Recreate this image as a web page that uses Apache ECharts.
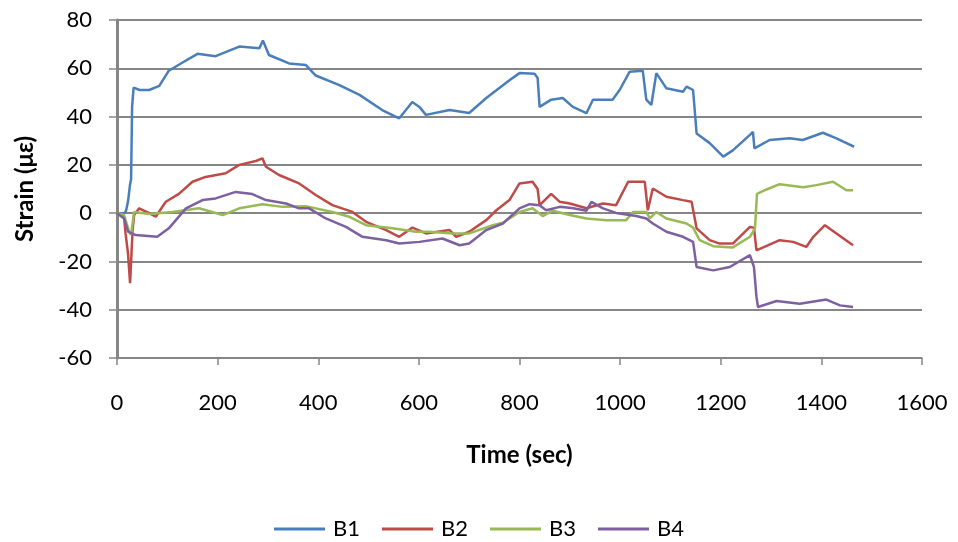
<!DOCTYPE html>
<html><head><meta charset="utf-8">
<script src="https://cdn.jsdelivr.net/npm/echarts@6/dist/echarts.min.js"></script>
<style>html,body{margin:0;padding:0;background:#fff}#c{width:958px;height:542px}</style>
</head><body><div id="c"></div>
<script>
const seriesNames = ['B1','B2','B3','B4'];
const colors = ['#4A7EBB','#BE4B48','#98B954','#7D60A0'];
const xTicks = [0,200,400,600,800,1000,1200,1400,1600];
const yTicks = [-60,-40,-20,0,20,40,60,80];

const b1T = [0,15,18,22,26,28,30,33,45,64,84,103,127,160,196,243,283,290,302,342,375,395,442,482,527,561,587,601,614,661,700,734,780,800,830,836,840,863,886,906,933,946,985,999,1019,1045,1052,1062,1072,1092,1125,1132,1145,1152,1178,1205,1224,1258,1264,1267,1297,1337,1363,1403,1430,1450,1465];
const b1V = [0,0,1,5,12,14,44,52,51,51,52.7,59,62,66,65,69,68.3,71.5,65.5,62,61.4,57,53,49,42.7,39.3,46,44,40.7,42.7,41.5,47.7,55,58,57.7,56,44,47,47.7,44,41.4,47,47,51,58.6,59,47,44.8,58,51.7,50.3,52.4,51,33,29,23.4,26,32.4,33.7,26.8,30.3,31,30.3,33.3,31,29,27.5];

const b2T = [0,14,17,22,26,31,34,44,64,77,97,123,150,176,216,243,276,289,296,322,362,395,428,468,495,535,561,587,614,661,674,700,734,754,780,800,826,836,840,863,880,900,933,966,992,1016,1049,1055,1065,1092,1125,1142,1152,1178,1198,1224,1258,1266,1271,1317,1344,1370,1384,1407,1430,1463];
const b2V = [0,-1.5,-8.4,-17,-29,-7,-0.8,2,0,-1.5,4.7,8,13,15,16.5,20,21.6,22.7,19.2,15.8,12.3,7.5,3.3,0.5,-3.6,-7,-9.8,-6,-8.4,-7,-9.8,-7.7,-2.9,1.2,5.4,12.3,13,10,3.3,8,4.7,4,2,4,3.3,13,13,1.2,10.2,6.8,5.4,4.7,-6.3,-11.2,-12.6,-12.6,-5.7,-6,-15.4,-11.2,-11.9,-14,-9.8,-5,-8.4,-13.3];

const b3T = [0,14,24,28,31,34,64,110,163,210,243,289,329,375,428,462,495,548,594,621,667,700,747,767,800,826,846,866,900,933,973,1012,1026,1052,1059,1072,1092,1132,1145,1158,1185,1224,1258,1268,1272,1291,1317,1364,1390,1423,1450,1463];
const b3V = [0,-0.8,-7.7,-9,-4,0.5,-0.4,0.5,2,-0.8,2,3.7,2.6,2.9,0.5,-1.5,-5,-6.3,-7.7,-7.7,-8.4,-8.4,-5,-4,0.5,2,-1.2,1,-0.8,-2.2,-2.9,-2.9,0.5,0.5,-2.2,0.5,-2.2,-4.3,-6,-11.2,-13.7,-14.2,-9.8,-6.3,8,9.8,12,10.7,11.6,13,9.5,9.5];

const b4T = [0,14,22,37,80,103,137,170,196,236,269,296,336,362,382,415,455,488,535,561,601,647,681,700,734,767,800,820,840,853,880,907,933,943,966,992,1032,1052,1065,1092,1125,1145,1152,1185,1218,1258,1266,1271,1274,1311,1357,1410,1437,1463];
const b4V = [0,-2.2,-7.7,-9.1,-9.8,-6.3,2,5.4,6.1,8.8,7.9,5.4,4,2,2,-2.2,-5.7,-9.8,-11.2,-12.6,-11.9,-10.5,-13.3,-12.6,-7,-4.3,2,3.7,3.3,1.2,2.6,2,1,4.7,2,0.1,-1.2,-2.2,-4.3,-7.7,-9.8,-11.9,-22.3,-23.7,-22.3,-17.4,-22.3,-34.7,-38.9,-36.4,-37.5,-35.8,-38.2,-38.9];

const times = [b1T,b2T,b3T,b4T];
const vals = [b1V,b2V,b3V,b4V];
const FONT = 'Lato, "Open Sans", sans-serif';

const chart = echarts.init(document.getElementById('c'), null, {renderer:'canvas'});
chart.setOption({
  animation:false,
  backgroundColor:'#fff',
  color: colors,
  grid:{left:117, right:36, top:20, bottom:184, containLabel:false},
  legend:{
    top:513, left:'center', itemWidth:51, itemHeight:3, itemGap:22,
    icon:'rect',
    textStyle:{fontFamily:FONT, fontSize:22, color:'#000', padding:[0,0,0,3]},
    data: seriesNames
  },
  xAxis:{
    type:'value', min:xTicks[0], max:xTicks[xTicks.length-1], interval:200,
    name:'Time (sec)', nameLocation:'middle', nameGap:85,
    nameTextStyle:{fontFamily:FONT, fontSize:24, fontWeight:'bold', color:'#000'},
    axisLine:{show:true, onZero:false, lineStyle:{color:'#868686', width:1.5}},
    axisTick:{show:true, inside:false, length:7, lineStyle:{color:'#868686', width:1.5}},
    axisLabel:{fontFamily:FONT, fontSize:22, color:'#000', margin:34, formatter: v => String(v)},
    splitLine:{show:false}
  },
  yAxis:{
    type:'value', min:yTicks[0], max:yTicks[yTicks.length-1], interval:20,
    name:'Strain (με)', nameLocation:'middle', nameGap:80, nameRotate:90,
    nameTextStyle:{fontFamily:FONT, fontSize:24, fontWeight:'bold', color:'#000'},
    axisLine:{show:true, lineStyle:{color:'#868686', width:3}},
    axisTick:{show:true, inside:false, length:8, lineStyle:{color:'#868686', width:1.5}},
    axisLabel:{fontFamily:FONT, fontSize:22, color:'#000', margin:25, formatter: v => String(v)},
    splitLine:{show:true, lineStyle:{color:'#868686', width:2}}
  },
  series: seriesNames.map((n,i)=>({
    name:n, type:'line', showSymbol:false, symbol:'none',
    data: times[i].map((t,j)=>[t, vals[i][j]]),
    lineStyle:{width:2.5, color:colors[i]},
    itemStyle:{color:colors[i]}
  }))
});
</script></body></html>
